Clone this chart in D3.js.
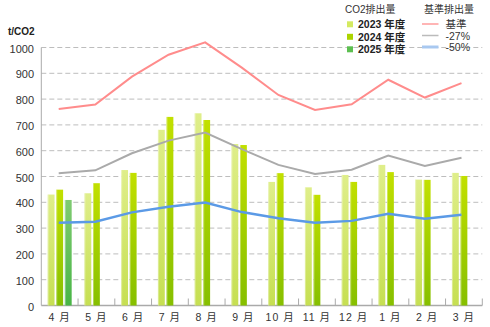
<!DOCTYPE html>
<html><head><meta charset="utf-8">
<script src="https://cdn.jsdelivr.net/npm/d3@7"></script>
<style>body{margin:0;background:#fff}svg{display:block;font-family:"Liberation Sans","DejaVu Sans","Noto Sans CJK JP",sans-serif}</style>
</head><body><svg id="c" width="490" height="327"></svg>
<script>
const months = ["4月","5月","6月","7月","8月","9月","10月","11月","12月","1月","2月","3月"];
const yTicks = [0,100,200,300,400,500,600,700,800,900,1000];
const barSeriesNames = ["2023 年度","2024 年度","2025 年度"];
const v2023 = [430,435,525,681,745,626,479,458,506,545,488,514];
const v2024 = [449,474,514,731,719,622,513,429,479,517,487,502];
const v2025 = [409,null,null,null,null,null,null,null,null,null,null,null];
const lineSeriesNames = ["基準","-27%","-50%"];
const base = [762,779,887,972,1020,922,816,758,780,875,806,862];
const minus27 = [513,524,590,639,670,606,545,510,526,581,541,573];
const minus50 = [321,325,361,383,399,362,338,321,328,356,336,352];

const svg = d3.select("#c");
const x0 = 41.3, x1 = 482.3, yBottom = 305.5, yTop = 47.5;
const x = d3.scaleBand().domain(months).range([x0, x1]);
const xl = d3.scalePoint().domain(months).range([58.7, 461.5]);
const y = d3.scaleLinear().domain([0,1000]).range([yBottom, yTop]);
const slot = d3.scaleBand().domain([0,1,2]).range([0, 24]).paddingInner(0.2);

const defs = svg.append("defs");
function grad(id, top, bot){
  const g = defs.append("linearGradient").attr("id", id).attr("x1",0).attr("y1",0).attr("x2",0).attr("y2",1);
  g.append("stop").attr("offset","0%").attr("stop-color",top);
  g.append("stop").attr("offset","100%").attr("stop-color",bot);
}
grad("g0","#dfee8a","#c6df52");
grad("g1","#c2e000","#86bf00");
grad("g2","#80cb72","#48b545");
const barColors = ["url(#g0)","url(#g1)","url(#g2)"];
const legendColors = ["#d4ea60","#acd400","#5cbf50"];
const lineColors = ["#ff8c8c","#aaaaaa","#5b9ae6"];

// grid
svg.append("g").selectAll("line").data(yTicks.filter(d=>d>0)).join("line")
  .attr("x1", x0).attr("x2", x1).attr("y1", d=>y(d)).attr("y2", d=>y(d))
  .attr("stroke","#bdbdbd").attr("stroke-width",1).attr("stroke-dasharray","5,3");

// y labels
svg.append("g").selectAll("text").data(yTicks).join("text")
  .attr("x", 34).attr("y", d=>y(d)+5).attr("text-anchor","end")
  .attr("font-size",11).attr("fill","#333").text(d=>d);
svg.append("text").attr("x",8).attr("y",35).attr("font-size",10).attr("font-weight","bold").attr("fill","#222").text("t/CO2");

// axes
svg.append("line").attr("x1",x0).attr("x2",x0).attr("y1",y(1000)).attr("y2",yBottom).attr("stroke","#aaa");
svg.append("line").attr("x1",x0).attr("x2",x1).attr("y1",yBottom).attr("y2",yBottom).attr("stroke","#aaa").attr("stroke-width",1.5);
const tickPos = months.map(m=>x(m)+x.bandwidth()).slice(0,12);
svg.append("g").selectAll("line").data(tickPos).join("line")
  .attr("x1",d=>d).attr("x2",d=>d).attr("y1",yBottom-7).attr("y2",yBottom).attr("stroke","#aaa");
svg.append("g").selectAll("text").data(months).join("text")
  .attr("x", d=>x(d)+x.bandwidth()/2).attr("y", 321).attr("text-anchor","middle")
  .attr("font-size",10.5).attr("letter-spacing","1px").attr("fill","#333").text(d=>d.replace("月"," 月"));

// bars
const series = [v2023, v2024, v2025];
series.forEach((vals, si) => {
  const g = svg.append("g");
  const data = months.map((m,i)=>({m, v: vals[i]})).filter(d=>d.v!=null);
  const gx = d => x(d.m) + x.bandwidth()/2 - 12 + slot(si);
  g.selectAll("rect").data(data).join("rect")
    .attr("x", gx).attr("width", slot.bandwidth())
    .attr("y", d=>y(d.v)).attr("height", d=>yBottom - y(d.v))
    .attr("fill", barColors[si]);
  g.selectAll("line").data(data).join("line")
    .attr("x1", d=>gx(d)+0.5).attr("x2", d=>gx(d)+0.5)
    .attr("y1", d=>y(d.v)).attr("y2", yBottom)
    .attr("stroke","#ffffff").attr("stroke-opacity",0.35).attr("stroke-width",1);
});

// lines
const lineData = [base, minus27, minus50];
const widths = [2, 2, 2.5];
lineData.forEach((vals, li) => {
  svg.append("path").datum(vals)
    .attr("fill","none").attr("stroke", lineColors[li]).attr("stroke-width", widths[li])
    .attr("d", d3.line().x((d,i)=>xl(months[i])).y(d=>y(d)));
});

// legend 1
const lg = svg.append("g");
lg.append("text").attr("x",345).attr("y",13).attr("font-size",10).attr("fill","#333").text("CO2排出量");
const rows1 = [24.3, 36.8, 49.3];
barSeriesNames.forEach((n,i)=>{
  lg.append("rect").attr("x",347).attr("y",rows1[i]-3).attr("width",6).attr("height",6).attr("fill",legendColors[i]);
  lg.append("text").attr("x",358).attr("y",rows1[i]+4).attr("font-size",10.5).attr("font-weight","bold").attr("fill","#222").text(n);
});
// legend 2
lg.append("text").attr("x",424).attr("y",13).attr("font-size",10).attr("fill","#333").text("基準排出量");
const rows2 = [24, 35.5, 47];
const legLine = ["#ff9c9c","#bbbbbb","#a8c8f0"];
lineSeriesNames.forEach((n,i)=>{
  lg.append("line").attr("x1",422).attr("x2",438.5).attr("y1",rows2[i]).attr("y2",rows2[i])
    .attr("stroke",legLine[i]).attr("stroke-width", i==2?3:1.5);
  lg.append("text").attr("x",445.5).attr("y",rows2[i]+4).attr("font-size",10.5).attr("fill","#333").text(n);
});
</script></body></html>
